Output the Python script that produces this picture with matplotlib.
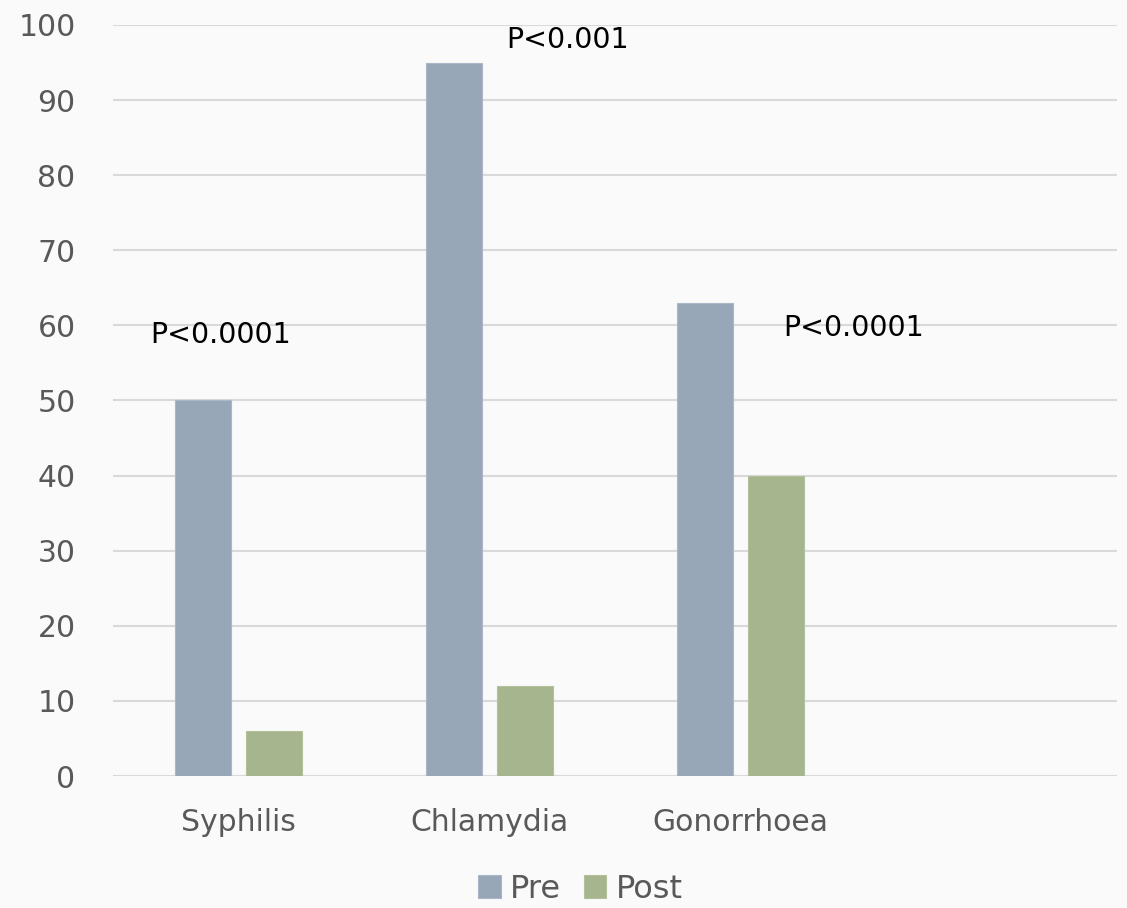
import numpy as np
import matplotlib.pyplot as plt

categories = ['Syphilis', 'Chlamydia', 'Gonorrhoea', '']
pre = [50, 95, 63, 0]
post = [6, 12, 40, 0]
yticks = [0, 10, 20, 30, 40, 50, 60, 70, 80, 90, 100]
pvals = ['P<0.0001', 'P<0.001', 'P<0.0001']
p_x = [-0.07, 1.31, 2.45]
p_y = [58.7, 98.0, 59.7]

bg = '#fafafa'
grey_txt = '#595959'

fig = plt.figure(figsize=(11.27, 9.08), dpi=100, facecolor=bg)
ax = fig.add_axes([113/1127, 132/908, 1004/1127, 751/908], facecolor=bg)

x = np.arange(len(categories))
w = 0.223
off = 0.1414
ax.bar(x[:3] - off, pre[:3], w, color='#98a7b7', edgecolor='#a9b7c6', linewidth=0.8, label='Pre', zorder=3)
ax.bar(x[:3] + off, post[:3], w, color='#a7b58f', edgecolor='#b3c09c', linewidth=0.8, label='Post', zorder=3)

ax.set_xlim(-0.5, 3.5)
ax.set_ylim(0, 100)
ax.set_yticks(yticks)
ax.set_xticks(x[:3])
ax.set_xticklabels(categories[:3])
ax.yaxis.grid(True, color='#d9d9d9', linewidth=1.5, zorder=0)
ax.xaxis.grid(False)
for s in ax.spines.values():
    s.set_visible(False)
ax.tick_params(axis='y', length=0, labelsize=21.5, colors=grey_txt, pad=27)
ax.tick_params(axis='x', length=0, labelsize=21.5, colors=grey_txt, pad=23)

for t, px, py in zip(pvals, p_x, p_y):
    ax.text(px, py, t, ha='center', va='center', fontsize=20.5, color='black', zorder=4)

fig.legend(loc='center', bbox_to_anchor=(0.515, 1 - 889/908), ncol=2, frameon=False,
           fontsize=23, handlelength=0.7, handleheight=0.7, handletextpad=0.3,
           columnspacing=0.7, labelcolor=grey_txt, borderpad=0)

fig.savefig('out.png', dpi=100, facecolor=bg)
